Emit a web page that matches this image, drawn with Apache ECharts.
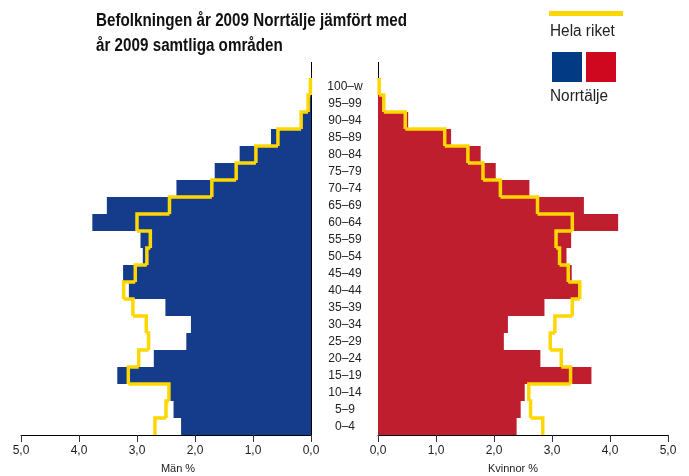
<!DOCTYPE html>
<html>
<head>
<meta charset="utf-8">
<script src="https://cdn.jsdelivr.net/npm/echarts@6/dist/echarts.min.js"></script>
<style>
  html, body { margin: 0; padding: 0; background: #fff; }
  #chart { width: 689px; height: 476px; }
</style>
</head>
<body>
<div id="chart"></div>
<script>
// age groups, bottom to top
const ageGroups = ['0–4', '5–9', '10–14', '15–19', '20–24', '25–29', '30–34', '35–39', '40–44', '45–49',
  '50–54', '55–59', '60–64', '65–69', '70–74', '75–79', '80–84', '85–89', '90–94', '95–99', '100–w'];
// Norrtälje, % of population
const menNorrtalje = [2.24, 2.37, 2.44, 3.34, 2.71, 2.15, 2.07, 2.51, 3.14, 3.24,
  2.90, 2.94, 3.77, 3.52, 2.32, 1.66, 1.23, 0.69, 0.19, 0.03, 0.01];
const womenNorrtalje = [2.39, 2.46, 2.53, 3.68, 2.80, 2.17, 2.24, 2.87, 3.45, 3.34,
  3.25, 3.33, 4.14, 3.55, 2.61, 2.03, 1.77, 1.26, 0.52, 0.09, 0.01];
// Hela riket, % of population
const menRiket = [2.69, 2.50, 2.45, 3.15, 2.97, 2.80, 2.84, 3.07, 3.23, 3.03,
  2.83, 2.77, 3.00, 2.44, 1.71, 1.29, 0.95, 0.57, 0.17, 0.05, 0.01];
const womenRiket = [2.84, 2.63, 2.60, 3.32, 3.16, 2.97, 3.05, 3.35, 3.48, 3.28,
  3.13, 3.07, 3.35, 2.75, 2.11, 1.81, 1.55, 1.15, 0.47, 0.10, 0.02];
const xTickLabels = ['0,0', '1,0', '2,0', '3,0', '4,0', '5,0'];

const blue = '#153c8b';
const red = '#be1e2d';
const yellow = '#ffd700';
const font = 'Liberation Sans, Arial';

const chart = echarts.init(document.getElementById('chart'));

// draws the step outline: one vertical segment per age band, joined to the next band at the boundary
function stepItem(values) {
  return function (params, api) {
    const i = params.dataIndex;
    const v = api.value(0);
    const c = api.coord([v, i]);
    const h = api.size([0, 1])[1];
    const pts = [[c[0], c[1] + h / 2], [c[0], c[1] - h / 2]];
    if (i < values.length - 1) {
      const n = api.coord([values[i + 1], i + 1]);
      pts.push([n[0], c[1] - h / 2]);
    }
    return {
      type: 'polyline',
      shape: { points: pts },
      style: { stroke: yellow, lineWidth: 3.5, fill: null, lineJoin: 'miter' }
    };
  };
}

const xAxisBase = {
  type: 'value', min: 0, max: 5, interval: 1,
  axisLine: { show: true, lineStyle: { color: '#000', width: 1 } },
  axisTick: { show: true, length: 7, lineStyle: { color: '#333' } },
  splitLine: { show: false },
  axisLabel: {
    color: '#222', fontSize: 12, margin: 10, fontFamily: font,
    formatter: v => xTickLabels[Math.round(v)]
  }
};

const yAxisBase = {
  type: 'category', data: ageGroups,
  axisLine: { show: true, lineStyle: { color: '#000', width: 1 } },
  axisTick: { show: false },
  splitLine: { show: false }
};

chart.setOption({
  animation: false,
  graphic: [
    // title, squeezed a little to match the condensed original face
    {
      type: 'text', x: 96, y: 9, scaleX: 0.845,
      style: {
        text: 'Befolkningen år 2009 Norrtälje jämfört med\når 2009 samtliga områden',
        fontSize: 18, fontWeight: 'bold', fill: '#111', lineHeight: 25, fontFamily: font
      }
    },
    { type: 'rect', left: 549, top: 11, shape: { width: 74, height: 5 }, style: { fill: yellow } },
    { type: 'text', x: 550, y: 24, scaleX: 0.96, style: { text: 'Hela riket', fontSize: 16, fill: '#222', fontFamily: font } },
    { type: 'rect', left: 552, top: 52, shape: { width: 30, height: 30 }, style: { fill: '#023a84' } },
    { type: 'rect', left: 586, top: 52, shape: { width: 30, height: 30 }, style: { fill: '#d0081f' } },
    { type: 'text', x: 550, y: 89, scaleX: 0.96, style: { text: 'Norrtälje', fontSize: 16, fill: '#222', fontFamily: font } },
    { type: 'text', x: 178, y: 469, style: { text: 'Män %', fontSize: 11, fill: '#222', fontFamily: font, align: 'center', verticalAlign: 'middle' } },
    { type: 'text', x: 513, y: 469, style: { text: 'Kvinnor %', fontSize: 11, fill: '#222', fontFamily: font, align: 'center', verticalAlign: 'middle' } },
    // axis lines run a little above the top band
    { type: 'line', shape: { x1: 311.5, y1: 62, x2: 311.5, y2: 79 }, style: { stroke: '#000', lineWidth: 1 } },
    { type: 'line', shape: { x1: 378.5, y1: 62, x2: 378.5, y2: 79 }, style: { stroke: '#000', lineWidth: 1 } }
  ],
  // 21 bands of exactly 17 px so the bars meet without seams
  grid: [
    { left: 21, right: 378, top: 78, bottom: 41 },
    { left: 378, right: 21, top: 78, bottom: 41 }
  ],
  xAxis: [
    Object.assign({}, xAxisBase, { gridIndex: 0, inverse: true }),
    Object.assign({}, xAxisBase, { gridIndex: 1 })
  ],
  yAxis: [
    Object.assign({}, yAxisBase, { gridIndex: 0, position: 'right', axisLabel: { show: false } }),
    Object.assign({}, yAxisBase, {
      gridIndex: 1, position: 'left',
      axisLabel: { show: true, align: 'center', margin: 33, color: '#222', fontSize: 12, fontFamily: font, interval: 0 }
    })
  ],
  series: [
    {
      name: 'Män Norrtälje', type: 'bar', xAxisIndex: 0, yAxisIndex: 0,
      data: menNorrtalje, barCategoryGap: 0,
      itemStyle: { color: blue, borderWidth: 0 }
    },
    {
      name: 'Kvinnor Norrtälje', type: 'bar', xAxisIndex: 1, yAxisIndex: 1,
      data: womenNorrtalje, barCategoryGap: 0,
      itemStyle: { color: red, borderWidth: 0 }
    },
    {
      name: 'Män riket', type: 'custom', xAxisIndex: 0, yAxisIndex: 0, z: 5,
      renderItem: stepItem(menRiket),
      encode: { x: 0, y: 1 },
      data: menRiket.map((v, i) => [v, i])
    },
    {
      name: 'Kvinnor riket', type: 'custom', xAxisIndex: 1, yAxisIndex: 1, z: 5,
      renderItem: stepItem(womenRiket),
      encode: { x: 0, y: 1 },
      data: womenRiket.map((v, i) => [v, i])
    }
  ]
});
</script>
</body>
</html>
